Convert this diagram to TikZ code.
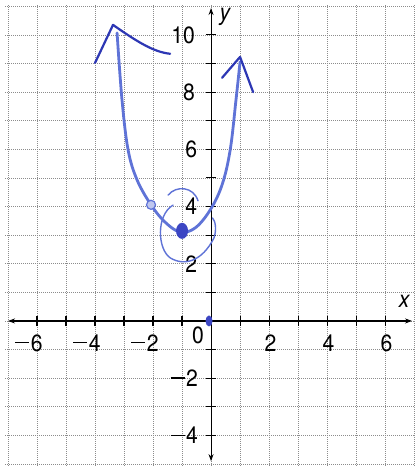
\documentclass[tikz,border=0pt]{standalone}
\usepackage{fontspec}
\setmainfont[FakeStretch=0.9]{TeX Gyre Heros}
\usetikzlibrary{arrows.meta,shapes.geometric}
\definecolor{gridc}{RGB}{140,140,140}
\definecolor{penlight}{RGB}{95,115,215}
\definecolor{pendark}{RGB}{45,55,180}
\definecolor{dotc}{RGB}{60,70,195}
\newcommand{\lblfont}{\fontsize{23.5}{26}\selectfont}
\newcommand{\mn}{\rule[7.6pt]{14pt}{1.6pt}\kern1.5pt}
\tikzset{
  gridline/.style={gridc, line width=0.6pt, dash pattern=on 1.2pt off 0.8pt},
  axisline/.style={black, line width=1.1pt},
  tickline/.style={black, line width=1.1pt},
  lbl/.style={inner sep=0pt},
  pen/.style={penlight, line width=2.8pt, line cap=round, line join=round},
  penhead/.style={pendark, line width=2.2pt, line cap=round, line join=round},
  penthin/.style={penlight, line width=1.4pt, line cap=round},
}
\begin{document}
\begin{tikzpicture}[x=29pt,y=28.6pt]
\useasboundingbox (-7.276,-5.07) rectangle (7.034,11.22);
\fill[white] (-7.276,-5.07) rectangle (7.034,11.22);
% grid
\foreach \i in {-7,...,7} \draw[gridline] (\i,-5.07) -- (\i,11.05);
\foreach \j in {-5,...,11} \draw[gridline] (-7.1,\j) -- (7.0,\j);
% axes
\coordinate (xl) at (-7.0,0); \coordinate (xr) at (6.93,0);
\coordinate (yb) at (0,-4.9); \coordinate (yt) at (0,10.94);
\draw[axisline,{Stealth[length=7pt,width=5pt]}-{Stealth[length=7pt,width=5pt]}] (xl) -- (xr);
\draw[axisline,{Stealth[length=7pt,width=5pt]}-{Stealth[length=7pt,width=5pt]}] (yb) -- (yt);
\foreach \i in {-6,...,-1,1,2,...,6} \draw[tickline] (\i,-0.18) -- (\i,0.18);
\foreach \j in {-4,...,-1,1,2,...,10} \draw[tickline] (-0.18,\j) -- (0.18,\j);
% labels
\foreach \i in {2,4,6} \node[lbl,anchor=base] (lx\i) at (\i+0.05,-1.05) {\lblfont\i};
\foreach \i in {6,4,2} \node[lbl,anchor=base east] (lxm\i) at (-\i+0.2,-1.05) {\lblfont\mn\i};
\node[lbl] (lo) at (-0.45,-0.49) {\lblfont 0};
\foreach \j in {10,8} \node[lbl,anchor=east] (ly\j) at (-0.55,\j) {\lblfont\j};
\foreach \j in {6,4,2} \node[lbl,anchor=east] (ly\j) at (-0.47,\j) {\lblfont\j};
\foreach \j in {2,4} \node[lbl,anchor=east] (lym\j) at (-0.45,-\j) {\lblfont\mn\j};
\node[lbl] (lxx) at (6.66,0.70) {\lblfont\itshape x};
\node[lbl] (lyy) at (0.48,10.63) {\lblfont\itshape y};
% hand-drawn curve
\draw[pen] plot[smooth,tension=0.6] coordinates {(-3.24,10.07) (-3.07,7.73) (-2.86,5.98) (-2.55,4.93) (-2.07,4.06) (-1.59,3.46) (-1.07,3.11) (-0.55,3.25) (-0.03,3.88) (0.38,4.76) (0.66,5.98) (0.86,7.73) (1.0,9.06)};
% arrowheads
\draw[penhead] (-4.0,9.02) -- (-3.38,10.35) .. controls (-2.6,9.8) and (-2.0,9.4) .. (-1.41,9.34);
\draw[penhead] (0.38,8.5) -- (1.0,9.23) -- (1.45,8.0);
% spiral around vertex
\draw[penthin] (-1.48,4.4) .. controls (-1.2,4.75) and (-0.6,4.7) .. (-0.45,4.2);
\draw[penthin] (-1.31,4.05) .. controls (-1.9,3.7) and (-1.85,2.5) .. (-1.4,2.2)
  .. controls (-0.9,1.9) and (-0.3,2.1) .. (0.1,2.9) .. controls (0.2,3.2) and (0.15,3.5) .. (0.05,3.6);
% points
\node[circle,draw=penlight,fill=penlight!40,line width=1.2pt,minimum size=9pt,inner sep=0pt] (pa) at (-2.07,4.06) {};
\node[ellipse,fill=dotc,minimum width=12pt,minimum height=16pt,inner sep=0pt] (pv) at (-1.0,3.15) {};
\node[ellipse,fill=dotc,minimum width=7pt,minimum height=11pt,inner sep=0pt] (po) at (-0.07,0.0) {};
\end{tikzpicture}
\end{document}
